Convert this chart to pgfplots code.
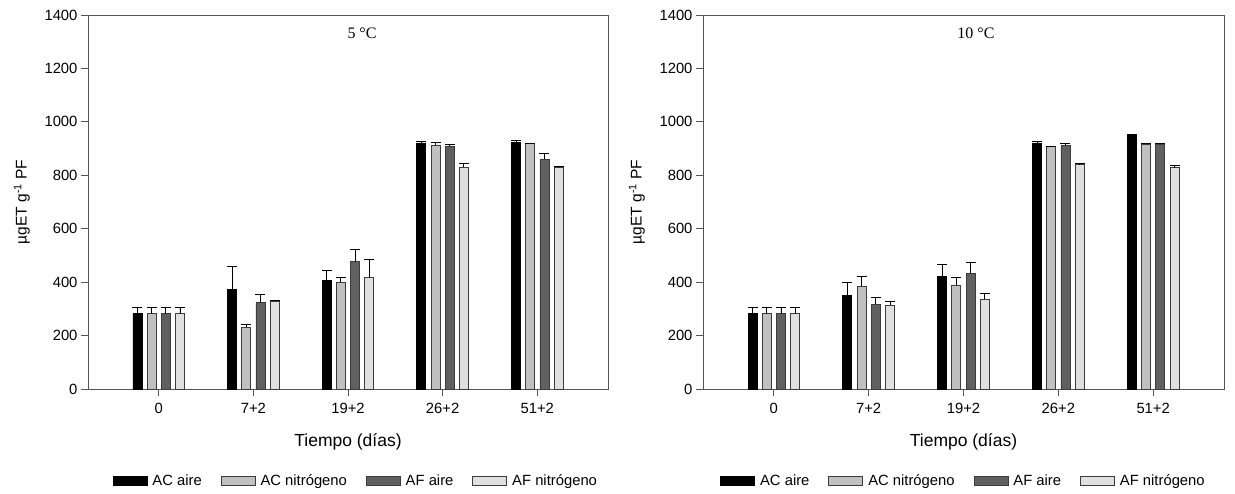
\documentclass[border=0pt]{standalone}
\usepackage{fontspec}
\setmainfont{Liberation Sans}
\newfontfamily\timesfont{Liberation Serif}
\usepackage{pgfplots}
\usepackage{pgfplotstable}
\pgfplotsset{compat=1.18}

\definecolor{cACa}{RGB}{0,0,0}
\definecolor{cACn}{RGB}{192,192,192}
\definecolor{cAFa}{RGB}{96,96,96}
\definecolor{cAFn}{RGB}{224,224,224}
\definecolor{edge}{RGB}{60,60,60}
\definecolor{frame}{RGB}{85,85,85}

% 5 °C: mean and upper error for each treatment
\pgfplotstableread{
pos ACa ACaE ACn ACnE AFa AFaE AFn AFnE
0   282 22   282 22   282 22   282 22
1   374 83   232 8    323 31   329 3
2   405 38   400 16   477 45   417 67
3   921 7    912 11   908 8    830 14
4   924 6    918 3    860 22   830 3
}\tabA

% 10 °C
\pgfplotstableread{
pos ACa ACaE ACn ACnE AFa AFaE AFn AFnE
0   282 22   282 22   282 22   282 22
1   349 49   384 39   318 25   314 14
2   422 46   387 31   434 39   337 21
3   921 7    907 2    910 11   841 2
4   950 1    917 2    917 2    828 7
}\tabB

\pgfplotsset{
  panel/.style={
    scale only axis, width=520pt, height=374pt,
    xmin=-0.747, xmax=4.747, ymin=0, ymax=1400,
    ybar, bar width=9pt, bar shift=0pt,
    ytick={0,200,...,1400}, xtick={0,1,2,3,4},
    xticklabels={0,7+2,19+2,26+2,51+2},
    tick pos=left, tick align=outside, major tick length=7pt,
    axis line style={frame, line width=0.8pt},
    tick style={frame, line width=0.8pt},
    /pgf/number format/assume math mode=true,
    /pgf/number format/1000 sep={},
    ticklabel style={font=\fontsize{14.8}{17}\selectfont},
    xticklabel style={yshift=-4pt},
    xlabel={Tiempo (días)},
    xlabel style={at={(axis description cs:0.5,-0.142)}, anchor=center,
      font=\fontsize{17.5}{20}\selectfont},
    ylabel={µgET g\textsuperscript{-1} PF},
    ylabel style={at={(axis description cs:-0.127,0.5)}, anchor=center,
      font=\fontsize{15.5}{18}\selectfont},
    legend image code/.code={\draw[#1] (0pt,-4.5pt) rectangle (34pt,4.5pt);},
    legend columns=4,
    legend style={anchor=center,
      draw=none, font=\fontsize{14.8}{17}\selectfont,
      /tikz/every odd column/.append style={column sep=3pt},
      /tikz/every even column/.append style={column sep=17pt}},
  },
  errs/.style={error bars/.cd, y dir=plus, y explicit,
    error bar style={black, line width=0.9pt},
    error mark=|, error mark options={black, mark size=5pt, line width=0.9pt}},
}

\newcommand{\bars}[1]{%
  \addplot[fill=cACa, draw=black, line width=0.8pt, errs]
    table[x expr=\thisrow{pos}-0.225, y=ACa, y error=ACaE]{#1};
  \addplot[fill=cACn, draw=edge, line width=0.8pt, errs]
    table[x expr=\thisrow{pos}-0.075, y=ACn, y error=ACnE]{#1};
  \addplot[fill=cAFa, draw=edge, line width=0.8pt, errs]
    table[x expr=\thisrow{pos}+0.075, y=AFa, y error=AFaE]{#1};
  \addplot[fill=cAFn, draw=edge, line width=0.8pt, errs]
    table[x expr=\thisrow{pos}+0.225, y=AFn, y error=AFnE]{#1};
  \legend{AC aire, AC nitrógeno, AF aire, AF nitrógeno}
}

\begin{document}
\begin{tikzpicture}
\useasboundingbox (0,0) rectangle (1235pt,493pt);

\begin{axis}[panel, at={(88pt,104pt)}, anchor=south west,
    legend style={at={(axis description cs:0.515,-0.246)}}]
  \bars{\tabA}
  \node[font=\timesfont\fontsize{16}{18}\selectfont] at (rel axis cs:0.527,0.952) {5 °C};
\end{axis}

\begin{axis}[panel, width=521pt, at={(703pt,104pt)}, anchor=south west,
    legend style={at={(axis description cs:0.5,-0.246)}}]
  \bars{\tabB}
  \node[font=\timesfont\fontsize{16}{18}\selectfont] at (rel axis cs:0.524,0.952) {10 °C};
\end{axis}
\end{tikzpicture}
\end{document}
